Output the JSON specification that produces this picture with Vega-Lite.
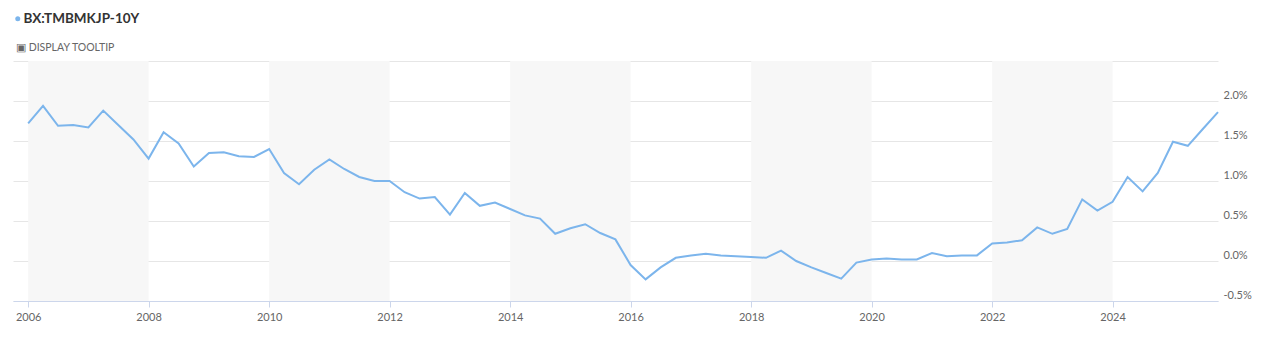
{
  "$schema": "https://vega.github.io/schema/vega-lite/v6.json",
  "width": 1205,
  "height": 240,
  "autosize": {"type": "none"},
  "padding": {"left": 13, "top": 61, "right": 47, "bottom": 39},
  "background": "#ffffff",
  "config": {
    "view": {"stroke": null},
    "font": "Lato",
    "title": {"font": "Lato"}
  },
  "title": {
    "text": "▣  DISPLAY TOOLTIP",
    "anchor": "start",
    "frame": "group",
    "fontSize": 10.5,
    "fontWeight": "normal",
    "color": "#666666",
    "baseline": "alphabetic",
    "offset": -49,
    "dx": 3
  },
  "datasets": {
    "bands": [
      {"start": "2006-01-01", "end": "2008-01-01"},
      {"start": "2010-01-01", "end": "2012-01-01"},
      {"start": "2014-01-01", "end": "2016-01-01"},
      {"start": "2018-01-01", "end": "2020-01-01"},
      {"start": "2022-01-01", "end": "2024-01-01"}
    ],
    "yields": [
      {"date": "2006-01-01", "value": 1.72},
      {"date": "2006-04-01", "value": 1.94},
      {"date": "2006-07-01", "value": 1.69},
      {"date": "2006-10-01", "value": 1.70},
      {"date": "2007-01-01", "value": 1.67},
      {"date": "2007-04-01", "value": 1.88},
      {"date": "2007-07-01", "value": 1.70},
      {"date": "2007-10-01", "value": 1.52},
      {"date": "2008-01-01", "value": 1.28},
      {"date": "2008-04-01", "value": 1.61},
      {"date": "2008-07-01", "value": 1.47},
      {"date": "2008-10-01", "value": 1.18},
      {"date": "2009-01-01", "value": 1.35},
      {"date": "2009-04-01", "value": 1.36},
      {"date": "2009-07-01", "value": 1.31},
      {"date": "2009-10-01", "value": 1.30},
      {"date": "2010-01-01", "value": 1.40},
      {"date": "2010-04-01", "value": 1.10},
      {"date": "2010-07-01", "value": 0.96},
      {"date": "2010-10-01", "value": 1.14},
      {"date": "2011-01-01", "value": 1.27},
      {"date": "2011-04-01", "value": 1.15},
      {"date": "2011-07-01", "value": 1.05},
      {"date": "2011-10-01", "value": 1.00},
      {"date": "2012-01-01", "value": 1.00},
      {"date": "2012-04-01", "value": 0.86},
      {"date": "2012-07-01", "value": 0.78},
      {"date": "2012-10-01", "value": 0.80},
      {"date": "2013-01-01", "value": 0.58},
      {"date": "2013-04-01", "value": 0.85},
      {"date": "2013-07-01", "value": 0.69},
      {"date": "2013-10-01", "value": 0.73},
      {"date": "2014-01-01", "value": 0.65},
      {"date": "2014-04-01", "value": 0.57},
      {"date": "2014-07-01", "value": 0.53},
      {"date": "2014-10-01", "value": 0.34},
      {"date": "2015-01-01", "value": 0.41},
      {"date": "2015-04-01", "value": 0.46},
      {"date": "2015-07-01", "value": 0.35},
      {"date": "2015-10-01", "value": 0.27},
      {"date": "2016-01-01", "value": -0.05},
      {"date": "2016-04-01", "value": -0.23},
      {"date": "2016-07-01", "value": -0.08},
      {"date": "2016-10-01", "value": 0.04},
      {"date": "2017-01-01", "value": 0.07},
      {"date": "2017-04-01", "value": 0.09},
      {"date": "2017-07-01", "value": 0.07},
      {"date": "2017-10-01", "value": 0.06},
      {"date": "2018-01-01", "value": 0.05},
      {"date": "2018-04-01", "value": 0.04},
      {"date": "2018-07-01", "value": 0.13},
      {"date": "2018-10-01", "value": 0.00},
      {"date": "2019-01-01", "value": -0.08},
      {"date": "2019-04-01", "value": -0.15},
      {"date": "2019-07-01", "value": -0.22},
      {"date": "2019-10-01", "value": -0.02},
      {"date": "2020-01-01", "value": 0.02},
      {"date": "2020-04-01", "value": 0.03},
      {"date": "2020-07-01", "value": 0.02},
      {"date": "2020-10-01", "value": 0.02},
      {"date": "2021-01-01", "value": 0.10},
      {"date": "2021-04-01", "value": 0.06},
      {"date": "2021-07-01", "value": 0.07},
      {"date": "2021-10-01", "value": 0.07},
      {"date": "2022-01-01", "value": 0.22},
      {"date": "2022-04-01", "value": 0.23},
      {"date": "2022-07-01", "value": 0.26},
      {"date": "2022-10-01", "value": 0.42},
      {"date": "2023-01-01", "value": 0.34},
      {"date": "2023-04-01", "value": 0.40},
      {"date": "2023-07-01", "value": 0.77},
      {"date": "2023-10-01", "value": 0.63},
      {"date": "2024-01-01", "value": 0.74},
      {"date": "2024-04-01", "value": 1.05},
      {"date": "2024-07-01", "value": 0.87},
      {"date": "2024-10-01", "value": 1.10},
      {"date": "2025-01-01", "value": 1.49},
      {"date": "2025-04-01", "value": 1.44},
      {"date": "2025-07-01", "value": 1.65},
      {"date": "2025-10-01", "value": 1.86}
    ]
  },
  "layer": [
    {
      "data": {"name": "bands"},
      "mark": {"type": "rect", "color": "#f7f7f7"},
      "encoding": {
        "x": {
          "field": "start",
          "type": "temporal",
          "scale": {
            "type": "utc",
            "domain": [
              {"year": 2005, "month": 10, "date": 1, "utc": true},
              {"year": 2025, "month": 10, "date": 1, "utc": true}
            ]
          },
          "axis": {
            "title": null,
            "format": "%Y",
            "tickCount": {"interval": "year", "step": 2},
            "grid": false,
            "domainColor": "#ccd6eb",
            "tickColor": "#ccd6eb",
            "tickSize": 6,
            "labelPadding": 4,
            "labelColor": "#666666",
            "labelFontSize": 11,
            "labelFont": "Lato"
          }
        },
        "x2": {"field": "end"}
      }
    },
    {
      "data": {"name": "yields"},
      "mark": {"type": "line", "strokeWidth": 2, "interpolate": "linear"},
      "encoding": {
        "x": {"field": "date", "type": "temporal"},
        "y": {
          "field": "value",
          "type": "quantitative",
          "scale": {"domain": [-0.5, 2.5], "nice": false, "zero": false},
          "axis": {
            "title": null,
            "orient": "right",
            "values": [-0.5, 0, 0.5, 1, 1.5, 2, 2.5],
            "labelExpr": "datum.value > 2.4 ? '' : replace(format(datum.value, '.1f'), '−', '-') + '%'",
            "domain": false,
            "ticks": false,
            "grid": true,
            "gridColor": "#e6e6e6",
            "labelAlign": "left",
            "labelPadding": 5,
            "labelOffset": -6,
            "labelColor": "#666666",
            "labelFontSize": 11,
            "labelFont": "Lato"
          }
        },
        "color": {
          "datum": "BX:TMBMKJP-10Y",
          "type": "nominal",
          "scale": {"range": ["#7cb5ec"]},
          "legend": {
            "title": null,
            "orient": "none",
            "legendX": -2,
            "legendY": -49,
            "padding": 0,
            "symbolType": "circle",
            "symbolSize": 25,
            "labelFontSize": 13.5,
            "labelFontWeight": "bold",
            "labelColor": "#333333",
            "labelFont": "Lato",
            "labelOffset": -1,
            "encode": {
              "symbols": {
                "update": {
                  "fill": {"value": "#7cb5ec"},
                  "stroke": {"value": "#7cb5ec"},
                  "strokeWidth": {"value": 0}
                }
              }
            }
          }
        }
      }
    }
  ]
}
